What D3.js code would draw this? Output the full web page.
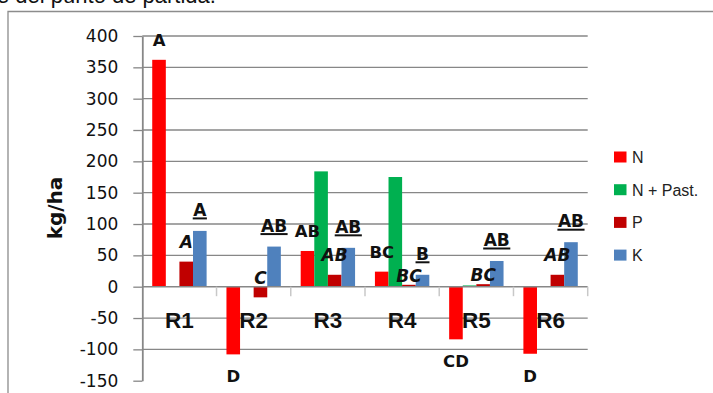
<!DOCTYPE html>
<html>
<head>
<meta charset="utf-8">
<script src="https://cdn.jsdelivr.net/npm/d3@7/dist/d3.min.js"></script>
<style>
  html, body { margin: 0; padding: 0; background: #fff; overflow: hidden; }
  svg { display: block; }
</style>
</head>
<body>
<div id="chart"></div>
<script>
// Balance per rotation (kg/ha), with significance letters per nutrient
const categories = ["R1", "R2", "R3", "R4", "R5", "R6"];
const seriesNames = ["N", "N + Past.", "P", "K"];
const nValues = [362, -108, 57, 24, -84, -107];
const nPastValues = [0, 0, 184, 175, 2, 0];
const pValues = [40, -17, 19, 3, 4, 19];
const kValues = [89, 64, 62, 19, 41, 71];
const nLetters = ["A", "D", "AB", "BC", "CD", "D"];
const pLetters = ["A", "C", "AB", "BC", "BC", "AB"];
const kLetters = ["A", "AB", "AB", "B", "AB", "AB"];
const yTicks = [-150, -100, -50, 0, 50, 100, 150, 200, 250, 300, 350, 400];
const colors = ["#ff0000", "#00b050", "#c00000", "#4f81bd"];

const W = 713, H = 393;
const svg = d3.select("#chart").append("svg").attr("width", W).attr("height", H);

// caption line of the surrounding page, mostly cropped above
svg.append("text")
  .attr("x", -3).attr("y", 3)
  .attr("font-family", "Liberation Sans, Arial, sans-serif")
  .attr("font-size", 22)
  .attr("fill", "#111")
  .text("e del punto de partida.");

// chart frame
svg.append("path")
  .attr("d", `M8,${H + 2} V11.5 H${W + 2}`)
  .attr("fill", "none").attr("stroke", "#8c8c8c").attr("stroke-width", 1.3);

const plot = { left: 142.3, right: 587.7, top: 36, bottom: 380.7 };

const x = d3.scaleBand().domain(categories).range([plot.left, plot.right]).padding(0);
const xs = d3.scaleBand().domain(seriesNames).range([0, x.bandwidth()])
  .paddingInner(0).paddingOuter(0.73);
const y = d3.scaleLinear().domain([-150, 400]).range([plot.bottom, plot.top]);

const gridColor = "#878787";

// horizontal gridlines
svg.append("g").selectAll("line")
  .data(yTicks.filter(t => t !== -150 && t !== 0))
  .join("line")
  .attr("x1", plot.left).attr("x2", plot.right)
  .attr("y1", d => y(d)).attr("y2", d => y(d))
  .attr("stroke", gridColor).attr("stroke-width", 1.3);

// bars
const seriesValues = [nValues, nPastValues, pValues, kValues];
const barData = [];
categories.forEach((c, i) => {
  seriesNames.forEach((s, j) => {
    barData.push({ cat: c, series: s, value: seriesValues[j][i], color: colors[j] });
  });
});
svg.append("g").selectAll("rect")
  .data(barData.filter(d => d.value !== 0))
  .join("rect")
  .attr("x", d => x(d.cat) + xs(d.series))
  .attr("width", xs.bandwidth())
  .attr("y", d => y(Math.max(0, d.value)))
  .attr("height", d => Math.abs(y(d.value) - y(0)))
  .attr("fill", d => d.color);

// y axis (plain hyphen for negatives)
const yAxis = svg.append("g")
  .attr("transform", `translate(${plot.left},0)`)
  .call(d3.axisLeft(y).tickValues(yTicks).tickFormat(d => String(d))
    .tickSize(9).tickSizeOuter(0).tickPadding(15));
yAxis.select(".domain").attr("stroke", gridColor).attr("stroke-width", 1.8);
yAxis.selectAll(".tick line").attr("stroke", gridColor).attr("stroke-width", 1.3);
yAxis.selectAll(".tick text")
  .attr("font-family", "DejaVu Sans, sans-serif")
  .attr("font-size", 17)
  .attr("fill", "#111");

// x axis along zero with category boundary ticks
const x0 = y(0);
svg.append("line")
  .attr("x1", plot.left).attr("x2", plot.right)
  .attr("y1", x0).attr("y2", x0)
  .attr("stroke", gridColor).attr("stroke-width", 1.5);
const bounds = categories.map(c => x(c)).concat([x(categories[categories.length - 1]) + x.bandwidth()]);
svg.append("g").selectAll("line")
  .data(bounds.slice(1))
  .join("line")
  .attr("x1", d => d).attr("x2", d => d)
  .attr("y1", x0).attr("y2", x0 + 9.5)
  .attr("stroke", "#c8c8c8").attr("stroke-width", 1.5);

// category labels
svg.append("g").selectAll("text")
  .data(categories)
  .join("text")
  .attr("x", d => x(d) + x.bandwidth() / 2)
  .attr("y", x0 + 41)
  .attr("text-anchor", "middle")
  .attr("font-family", "Liberation Sans, Arial, sans-serif")
  .attr("font-weight", "bold")
  .attr("font-size", 22.5)
  .attr("fill", "#111")
  .text(d => d);

// y axis title
svg.append("text")
  .attr("transform", "translate(62,208) rotate(-90)")
  .attr("text-anchor", "middle")
  .attr("font-family", "DejaVu Sans, sans-serif")
  .attr("font-weight", "bold")
  .attr("font-size", 20)
  .attr("fill", "#111")
  .text("kg/ha");

// letters sit above the bar top; on bars with almost no height they sit close to zero
function letterY(v) {
  const top = y(Math.max(0, v));
  return (x0 - top < 6) ? top - 3 : top - 14;
}
const letterFont = "DejaVu Sans, sans-serif";

// N letters: above positive bars, below negative bars
const gN = svg.append("g");
categories.forEach((c, i) => {
  const v = nValues[i];
  const cx = x(c) + xs("N") + xs.bandwidth() / 2;
  const yy = v < 0 ? y(v) + 28 : y(v) - 14;
  gN.append("text")
    .attr("x", cx).attr("y", yy)
    .attr("text-anchor", "middle")
    .attr("font-family", letterFont)
    .attr("font-weight", "bold")
    .attr("font-size", 16.5)
    .attr("fill", "#111")
    .text(nLetters[i]);
});

// P letters: italic
const gP = svg.append("g");
categories.forEach((c, i) => {
  const v = pValues[i];
  const cx = x(c) + xs("P") + xs.bandwidth() / 2;
  gP.append("text")
    .attr("x", cx).attr("y", letterY(v))
    .attr("text-anchor", "middle")
    .attr("font-family", letterFont)
    .attr("font-weight", "bold")
    .attr("font-style", "italic")
    .attr("font-size", 17)
    .attr("fill", "#111")
    .text(pLetters[i]);
});

// K letters: underlined
const gK = svg.append("g");
categories.forEach((c, i) => {
  const v = kValues[i];
  const cx = x(c) + xs("K") + xs.bandwidth() / 2;
  const yy = y(v) - 15;
  const t = gK.append("text")
    .attr("x", cx).attr("y", yy)
    .attr("text-anchor", "middle")
    .attr("font-family", letterFont)
    .attr("font-weight", "bold")
    .attr("font-size", 17)
    .attr("fill", "#111")
    .text(kLetters[i]);
  const w = t.node().getComputedTextLength();
  gK.append("line")
    .attr("x1", cx - w / 2 - 0.5).attr("x2", cx + w / 2 + 0.5)
    .attr("y1", yy + 2.5).attr("y2", yy + 2.5)
    .attr("stroke", "#111").attr("stroke-width", 2);
});

// legend
const legend = svg.append("g").attr("transform", "translate(614,157)");
seriesNames.forEach((s, i) => {
  const g = legend.append("g").attr("transform", `translate(0,${i * 32.7})`);
  g.append("rect").attr("x", 0).attr("y", -5.5).attr("width", 12.5).attr("height", 11)
    .attr("fill", colors[i]);
  g.append("text").attr("x", 18).attr("y", 6)
    .attr("font-family", "Liberation Sans, Arial, sans-serif")
    .attr("font-size", 16)
    .attr("fill", "#222")
    .text(s);
});
</script>
</body>
</html>
